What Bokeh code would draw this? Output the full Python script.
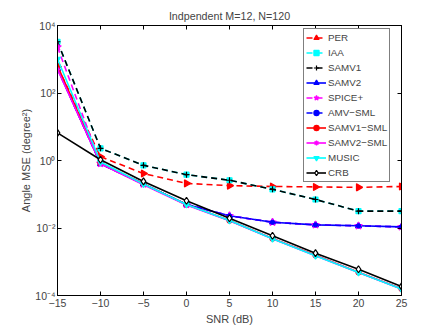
import numpy as np
from bokeh.plotting import figure
from bokeh.models import LinearAxis, LogAxis, FixedTicker, Range1d, Legend
from bokeh.embed import file_html
from bokeh.resources import INLINE

snr = [-15, -10, -5, 0, 5, 10, 15, 20, 25]

per = [600, 1.3, 0.41, 0.21, 0.18, 0.17, 0.165, 0.16, 0.17]
iaa = [3300, 2.3, 0.72, 0.38, 0.26, 0.14, 0.07, 0.0316, 0.0316]
samv1 = [3300, 2.3, 0.72, 0.38, 0.26, 0.14, 0.07, 0.0316, 0.0316]
samv2 = [525, 0.8, 0.2, 0.05, 0.023, 0.0148, 0.0124, 0.0116, 0.0108]
spice = [2300, 0.82, 0.2, 0.05, 0.023, 0.0148, 0.0124, 0.0116, 0.0108]
amvsml = [525, 0.8, 0.2, 0.05, 0.023, 0.0148, 0.0124, 0.0116, 0.0108]
samv1sml = [640, 0.85, 0.2, 0.05, 0.0168, 0.0049, 0.00155, 0.00049, 0.000158]
samv2sml = [500, 0.8, 0.19, 0.048, 0.0165, 0.0048, 0.0015, 0.00048, 0.000155]
music = [1020, 0.9, 0.2, 0.05, 0.0166, 0.0048, 0.0015, 0.00048, 0.000155]
crb = [6.6, 1.05, 0.24, 0.064, 0.0195, 0.0059, 0.0018, 0.0006, 0.000186]

xticks = [-15, -10, -5, 0, 5, 10, 15, 20, 25]
yticks = [1e-4, 1e-2, 1, 1e2, 1e4]
ytick_labels = {1e-4: "10\u207b\u2074", 1e-2: "10\u207b\u00b2", 1: "10\u2070", 1e2: "10\u00b2", 1e4: "10\u2074"}

FONT = "Liberation Sans"

p = figure(output_backend="svg", toolbar_location=None, y_axis_type="log",
           frame_width=344, frame_height=270,
           x_range=Range1d(-15, 25), y_range=Range1d(1e-4, 1e4),
           min_border_left=57, min_border_top=25, min_border_right=42, min_border_bottom=37,
           title="Indpendent M=12, N=120")
p.title.text_font = FONT
p.title.text_font_size = "10.7px"
p.title.text_font_style = "normal"
p.title.align = "center"
p.title.offset = 0
p.title.standoff = 8
p.grid.visible = False
p.outline_line_color = "black"
p.outline_line_width = 1
p.background_fill_color = "white"
p.border_fill_color = "white"

for ax in (p.xaxis[0], p.yaxis[0]):
    ax.major_tick_in = 4
    ax.major_tick_out = 0
    ax.minor_tick_in = 0
    ax.minor_tick_out = 0
    ax.major_label_text_font = FONT
    ax.major_label_text_font_size = "10.5px"
    ax.axis_label_text_font = FONT
    ax.axis_label_text_font_size = "11px"
    ax.axis_label_text_font_style = "normal"
    ax.axis_line_color = "black"

p.xaxis[0].major_label_standoff = 3
p.xaxis[0].axis_label_standoff = 3
p.yaxis[0].major_label_standoff = 2
p.yaxis[0].axis_label_standoff = 0

p.xaxis[0].ticker = FixedTicker(ticks=xticks)
p.yaxis[0].ticker = FixedTicker(ticks=yticks)
p.yaxis[0].major_label_overrides = ytick_labels
p.xaxis[0].major_label_overrides = {t: str(t).replace("-", "\u2212") for t in xticks}
p.xaxis[0].axis_label = "SNR (dB)"
p.yaxis[0].axis_label = "Angle MSE (degree\u00b2)"

top_ax = LinearAxis(ticker=FixedTicker(ticks=xticks), major_label_text_color=None,
                    major_label_text_font_size="1px",
                    major_tick_in=4, major_tick_out=0, minor_tick_in=0, minor_tick_out=0,
                    major_label_standoff=0)
right_ax = LogAxis(ticker=FixedTicker(ticks=yticks), major_label_text_color=None,
                   major_label_text_font_size="1px",
                   major_tick_in=4, major_tick_out=0, minor_tick_in=0, minor_tick_out=0,
                   major_label_standoff=0)
p.add_layout(top_ax, "above")
p.add_layout(right_ax, "right")

series = [
    ("PER", per, "red", "dashed", "triangle", {"angle": -np.pi / 2}, 7, "red"),
    ("IAA", iaa, "cyan", "dashed", "square", {}, 5, "cyan"),
    ("SAMV1", samv1, "black", "dashed", "cross", {}, 6, "black"),
    ("SAMV2", samv2, "blue", "solid", "triangle", {}, 6, "blue"),
    ("SPICE+", spice, "magenta", "dashed", "star", {}, 8, "magenta"),
    ("AMV\u2212SML", amvsml, "blue", "dashed", "circle", {}, 4, "blue"),
    ("SAMV1\u2212SML", samv1sml, "red", "solid", "circle", {}, 5, "red"),
    ("SAMV2\u2212SML", samv2sml, "magenta", "solid", "asterisk", {}, 5, "magenta"),
    ("MUSIC", music, "cyan", "solid", "inverted_triangle", {}, 6, "cyan"),
    ("CRB", crb, "black", "solid", "diamond", {}, 7, "white"),
]

items = []
for name, vals, col, dash, marker, extra, size, fill in series:
    dash_val = "6 4" if dash == "dashed" else "solid"
    r1 = p.line(snr, vals, line_color=col, line_width=1.6, line_dash=dash_val)
    r2 = p.scatter(snr, vals, marker=marker, size=size, line_color=col, fill_color=fill,
                   line_width=1.2, **extra)
    items.append((name, [r1, r2]))

legend = Legend(items=items, location=(246, 113))
legend.label_text_font = FONT
legend.label_text_font_size = "9.8px"
legend.glyph_width = 20
legend.glyph_height = 13
legend.label_height = 13
legend.spacing = 2
legend.padding = 2
legend.margin = 0
legend.label_standoff = 2
legend.border_line_color = "black"
legend.border_line_width = 1.5
legend.background_fill_alpha = 1
p.add_layout(legend, "center")

open("out.html", "w").write(file_html(p, INLINE))
